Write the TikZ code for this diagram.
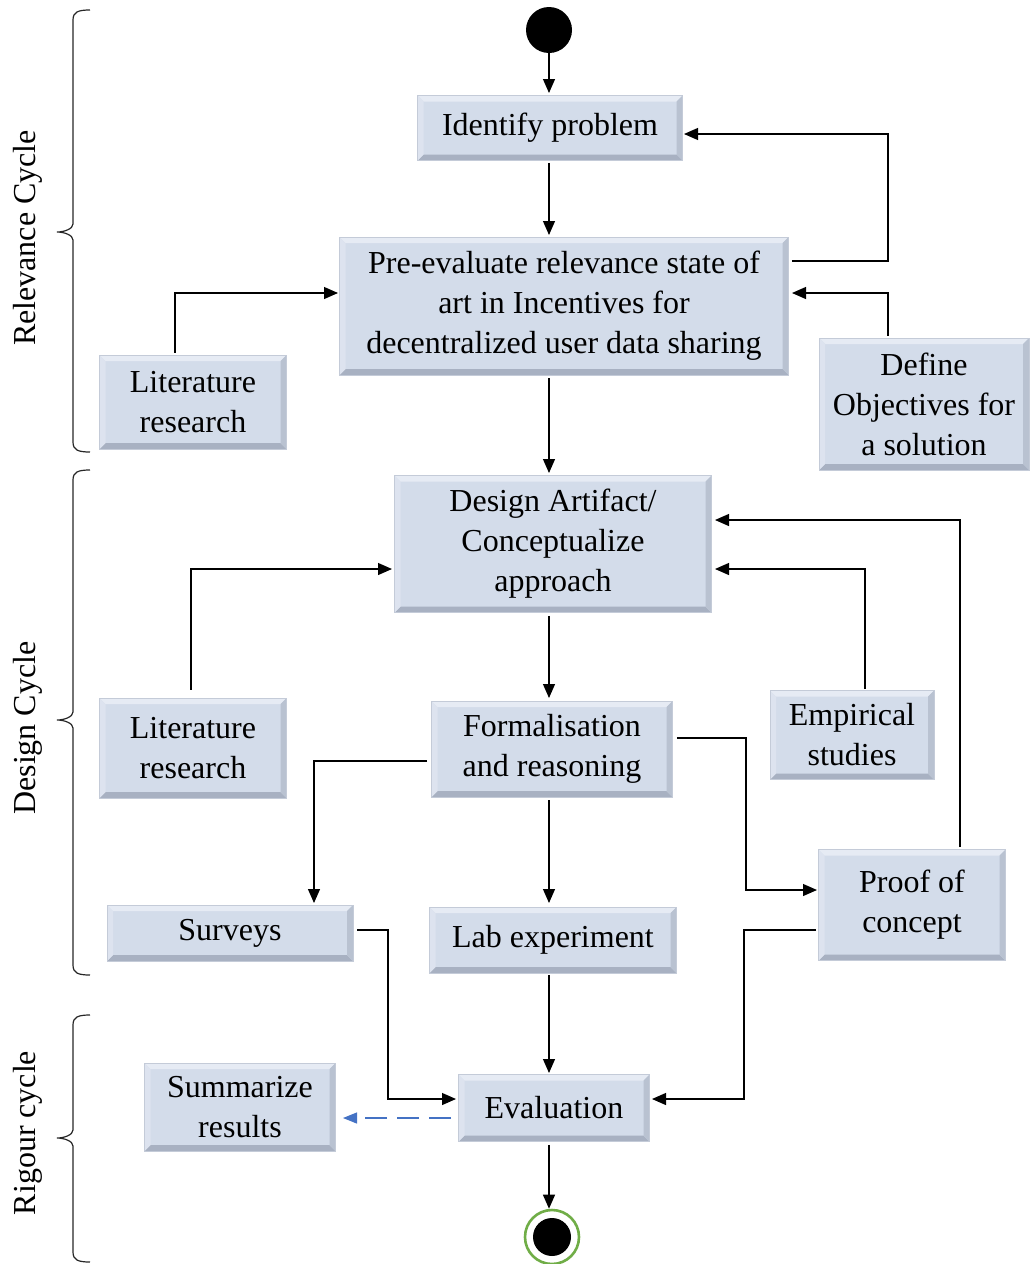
\documentclass[tikz,border=0pt]{standalone}
\usepackage{fontspec}
\setmainfont{Liberation Serif}
\usetikzlibrary{arrows.meta,calc}
\definecolor{boxface}{HTML}{D3DCEA}
\definecolor{boxtop}{HTML}{E6EBF4}
\definecolor{boxleft}{HTML}{DDE3EF}
\definecolor{boxright}{HTML}{B9C2D1}
\definecolor{boxbot}{HTML}{A8B1C2}
\definecolor{boxedge}{HTML}{C4CBD8}
\definecolor{flowblue}{HTML}{4472C4}
\definecolor{endgreen}{HTML}{70AD47}
\tikzset{
  box/.style={fill=boxface, draw=boxedge, line width=0.6pt, inner sep=0pt,
    align=center, font=\fontsize{32}{40}\selectfont,
    path picture={
      \path (path picture bounding box.south west) coordinate (bsw)
            (path picture bounding box.north east) coordinate (bne);
      \fill[boxtop] (bsw|-bne) -- (bne) -- ($(bne)+(-6pt,-6pt)$) -- ($(bsw|-bne)+(6pt,-6pt)$) -- cycle;
      \fill[boxbot] (bsw) -- (bsw-|bne) -- ($(bsw-|bne)+(-6pt,6pt)$) -- ($(bsw)+(6pt,6pt)$) -- cycle;
      \fill[boxleft] (bsw) -- (bsw|-bne) -- ($(bsw|-bne)+(6pt,-6pt)$) -- ($(bsw)+(6pt,6pt)$) -- cycle;
      \fill[boxright] (bne) -- (bsw-|bne) -- ($(bsw-|bne)+(-6pt,6pt)$) -- ($(bne)+(-6pt,-6pt)$) -- cycle;
    }},
  arr/.style={line width=1.2pt, -{Triangle[length=14pt,width=12pt]}},
  dasharr/.style={line width=1.2pt, draw=flowblue, dash pattern=on 22pt off 10pt,
    -{Triangle[length=14pt,width=11pt]}},
  bracket/.style={line width=1.2pt, draw=black!85},
  cyclelabel/.style={rotate=90, font=\fontsize{32}{36}\selectfont}
}
\newcommand{\cyclebrace}[3]{%
  \draw[bracket] (90,#1) .. controls (78,#1) and (73,#1+2) .. (73,#1+10)
    -- (73,#3-8) .. controls (73,#3-3) and (64,#3) .. (57,#3)
    .. controls (64,#3) and (73,#3+3) .. (73,#3+8)
    -- (73,#2-10) .. controls (73,#2-2) and (78,#2) .. (90,#2);}
\begin{document}
\begin{tikzpicture}[x=1pt, y=-1pt]
  \useasboundingbox (0,0) rectangle (1029,1264);

  % start and end markers
  \fill (549,30) circle (23pt) coordinate (start);
  \node[circle, fill=black, minimum size=38pt, inner sep=0pt] (stopdot) at (552,1237) {};
  \node[circle, draw=endgreen, line width=2.6pt, minimum size=54pt, inner sep=0pt] (stop) at (552,1237) {};
  \coordinate (startb) at (549,53);

  % activities
  \node[box, minimum width=265pt, minimum height=65pt] (ident) at (550,128) {Identify problem};
  \node[box, minimum width=449pt, minimum height=138pt] (pre) at (564,306)
    {Pre-evaluate relevance state of\\art in Incentives for\\decentralized user data sharing};
  \node[box, minimum width=187pt, minimum height=94pt] (lit1) at (193,402) {Literature\\research};
  \node[box, minimum width=210pt, minimum height=132pt] (obj) at (924,404)
    {Define\\Objectives for\\a solution};
  \node[box, minimum width=317pt, minimum height=137pt] (design) at (553,544)
    {Design Artifact/\\Conceptualize\\approach};
  \node[box, minimum width=187pt, minimum height=100pt] (lit2) at (193,748) {Literature\\research};
  \node[box, minimum width=241pt, minimum height=96pt] (formal) at (552,749)
    {Formalisation\\and reasoning};
  \node[box, minimum width=164pt, minimum height=89pt] (emp) at (852,735) {Empirical\\studies};
  \node[box, minimum width=187pt, minimum height=111pt] (proof) at (912,905) {Proof of\\concept};
  \node[box, minimum width=246pt, minimum height=56pt] (survey) at (230,933) {Surveys};
  \node[box, minimum width=247pt, minimum height=66pt] (lab) at (553,940) {Lab experiment};
  \node[box, minimum width=191pt, minimum height=67pt] (eval) at (554,1108) {Evaluation};
  \node[box, minimum width=191pt, minimum height=88pt] (summ) at (240,1107) {Summarize\\results};

  % main flow
  \draw[arr] (startb) -- (549,93);
  \draw[arr] (ident.south -| 549,0) ++(0,2) -- (549,235);
  \draw[arr] (pre.south -| 549,0) ++(0,3) -- (549,473);
  \draw[arr] (design.south -| 549,0) ++(0,3) -- (549,698);
  \draw[arr] (formal.south -| 549,0) ++(0,3) -- (549,903);
  \draw[arr] (lab.south -| 549,0) ++(0,2) -- (549,1073);
  \draw[arr] (eval.south -| 549,0) ++(0,3) -- (stop.north -| 549,0);

  % feedback and inputs
  \draw[arr] (pre.east |- 0,261) ++(3,0) -| (888,134) -- (684,134);
  \draw[arr] (lit1.north -| 175,0) ++(0,-2) |- (338,293);
  \draw[arr] (obj.north -| 888,0) ++(0,-2) |- (792,293);
  \draw[arr] (lit2.north -| 191,0) ++(0,-8) |- (392,569);
  \draw[arr] (emp.north -| 865,0) ++(0,-1) |- (715,569);
  \draw[arr] (proof.north -| 960,0) ++(0,-2) |- (715,520);
  \draw[arr] (formal.west |- 0,761) ++(-4,0) -| (314,903);
  \draw[arr] (formal.east |- 0,738) ++(4,0) -| (746,890) -- (817,890);
  \draw[arr] (survey.east |- 0,930) ++(4,0) -| (388,1099) -- (456,1099);
  \draw[arr] (proof.west |- 0,930) ++(-2,0) -| (744,1099) -- (652,1099);
  \draw[dasharr] (eval.west |- 0,1118) ++(-7,0) -- (343,1118);

  % cycle brackets
  \cyclebrace{10}{452}{232}
  \cyclebrace{470}{975}{720}
  \cyclebrace{1015}{1262}{1138}
  \node[cyclelabel] (relcyc) at (28,238) {Relevance Cycle};
  \node[cyclelabel] (descyc) at (28,728) {Design Cycle};
  \node[cyclelabel] (rigcyc) at (28,1133) {Rigour cycle};
\end{tikzpicture}
\end{document}
